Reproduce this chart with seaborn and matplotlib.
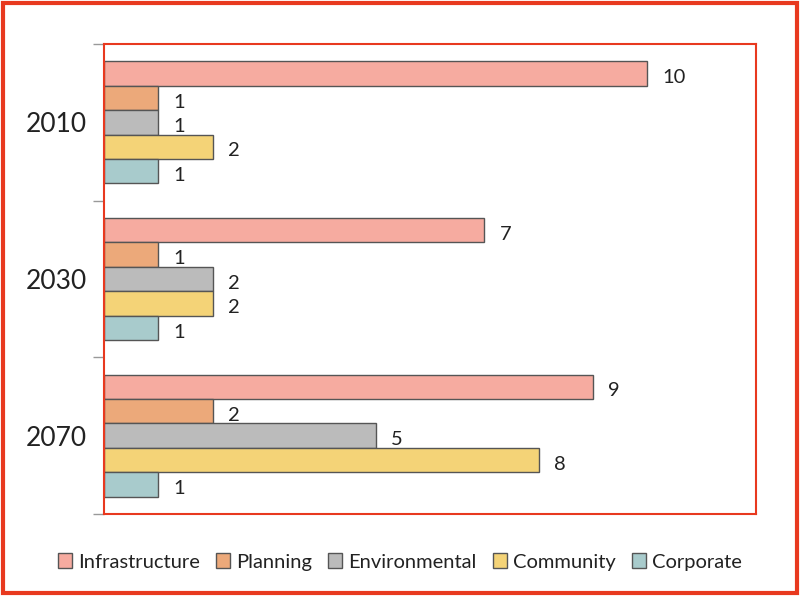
import matplotlib
matplotlib.use("Agg")
import matplotlib.pyplot as plt
import matplotlib.patches as mpatches
import seaborn as sns
import pandas as pd
from matplotlib.ticker import FixedLocator

years = ["2010", "2030", "2070"]
categories = ["Infrastructure", "Planning", "Environmental", "Community", "Corporate"]
infrastructure = [10, 7, 9]
planning = [1, 1, 2]
environmental = [1, 2, 5]
community = [2, 2, 8]
corporate = [1, 1, 1]
colors = ["#F6ABA0", "#ECA97A", "#BBBBBB", "#F4D377", "#A8CBCC"]

series = [infrastructure, planning, environmental, community, corporate]
rows = []
for cat, vals in zip(categories, series):
    for y, v in zip(years, vals):
        rows.append({"year": y, "category": cat, "value": v})
df = pd.DataFrame(rows)

sns.set_style("white")
plt.rcParams["font.family"] = ["Lato", "DejaVu Sans"]

fig = plt.figure(figsize=(8, 5.96), dpi=100)
ax = fig.add_axes([104/800, 1-514/596, (756-104)/800, (514-44)/596])

sns.barplot(data=df, y="year", x="value", hue="category", order=years,
            hue_order=categories, palette=colors, saturation=1, orient="h", width=0.78,
            edgecolor="#555555", linewidth=1, ax=ax, legend=True)

for cont in ax.containers:
    texts = ax.bar_label(cont, padding=11, fontsize=14.5, color="#222222")
    for t in texts:
        x0, y0 = t.xyann
        t.xyann = (x0, y0 - 3)

ax.set_xlim(0, 12)
ax.set_ylim(2.5, -0.5)
ax.set_xlabel("")
ax.set_ylabel("")
ax.set_xticks([])
ax.yaxis.set_major_locator(FixedLocator([-0.5, 0.5, 1.5, 2.5]))
ax.yaxis.set_minor_locator(FixedLocator([0, 1, 2]))
ax.set_yticklabels([], minor=False)
ax.set_yticklabels(years, minor=True, fontsize=19, color="#222222")
ax.tick_params(axis="y", which="major", length=8, width=1, color="#999999", left=True)
ax.tick_params(axis="y", which="minor", length=0, pad=12)
for s in ax.spines.values():
    s.set_color("#E8391F")
    s.set_linewidth(1.5)
    s.set_visible(True)

handles, labels = ax.get_legend_handles_labels()
ax.legend_.remove()
fig.legend(handles, labels, loc="center", bbox_to_anchor=(0.5, 1-562/596), ncol=5,
           frameon=False, fontsize=14.5, handlelength=0.7, handleheight=0.7,
           handletextpad=0.3, columnspacing=0.8, labelcolor="#222222")

fig.patches.append(mpatches.Rectangle((0.004, 0.005), 0.992, 0.99, transform=fig.transFigure,
                                      fill=False, edgecolor="#E8391F", linewidth=3))

fig.savefig("out.png", dpi=100)
